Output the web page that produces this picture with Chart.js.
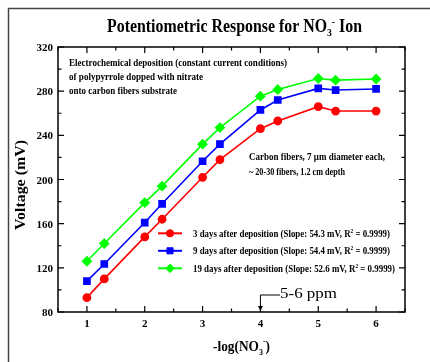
<!DOCTYPE html>
<html><head><meta charset="utf-8">
<script src="https://cdn.jsdelivr.net/npm/chart.js@4"></script>
<style>html,body{margin:0;padding:0;background:#fff}canvas{display:block}</style>
</head><body>
<canvas id="c" width="430" height="362"></canvas>
<script>
// ---- data ----
const xValues = [1, 1.3, 2, 2.3, 3, 3.3, 4, 4.3, 5, 5.3, 6];
const day3 = [93, 110, 148, 164, 202, 218, 246, 253, 266, 262, 262];
const day9 = [108, 123.5, 161, 178, 216.5, 232, 263, 272, 282.5, 281, 282];
const day19 = [126, 142, 179, 194, 232, 247, 275.5, 281.5, 291.5, 290, 291];
const seriesLabels = [
  ["3 days after deposition (Slope: 54.3 mV, R", "2", " = 0.9999)"],
  ["9 days after deposition (Slope: 54.4 mV, R", "2", " = 0.9999)"],
  ["19 days after deposition (Slope: 52.6 mV, R", "2", " = 0.9999)"]
];
const xTicks = [1, 2, 3, 4, 5, 6];
const yTicks = [80, 120, 160, 200, 240, 280, 320];
const noteLines = ["Electrochemical deposition (constant current conditions)", "of polypyrrole dopped with nitrate", "onto carbon fibers substrate"];
const fiberLines = ["Carbon fibers, 7 \u03bcm diameter each,", "~ 20-30 fibers, 1.2 cm depth"];
const arrowValue = 4;
const arrowText = "5-6 ppm";

const colors = ['#ff0000', '#0000ff', '#00ff00'];
const styles = ['circle', 'rect', 'rectRot'];
const radii = [3.6, 4.3, 4.3];
const SERIF = '"Liberation Serif", "Times New Roman", serif';

function mk(vals, i) {
  return {
    data: xValues.map((x, k) => ({x, y: vals[k]})),
    borderColor: colors[i], backgroundColor: colors[i],
    pointStyle: styles[i], pointRadius: radii[i], pointHoverRadius: radii[i],
    borderWidth: 1.6, showLine: true, tension: 0
  };
}

// draw a sequence of segments [text, font, dy] fitted to width
function drawSegs(ctx, segs, x, y, targetW, align) {
  let w = 0;
  segs.forEach(s => { ctx.font = s[1]; w += ctx.measureText(s[0]).width; });
  const sx = targetW ? targetW / w : 1;
  const total = w * sx;
  let start = x;
  if (align === 'center') start = x - total / 2;
  else if (align === 'right') start = x - total;
  ctx.save();
  ctx.translate(start, y);
  ctx.scale(sx, 1);
  let cx = 0;
  ctx.textAlign = 'left';
  segs.forEach(s => {
    ctx.font = s[1];
    ctx.fillText(s[0], cx, s[2] || 0);
    cx += ctx.measureText(s[0]).width;
  });
  ctx.restore();
}

const deco = {
  id: 'deco',
  afterDraw(chart) {
    const ctx = chart.ctx, xs = chart.scales.x, ys = chart.scales.y;
    const a = chart.chartArea;
    ctx.save();
    // outer frame
    ctx.strokeStyle = '#444'; ctx.lineWidth = 1.5;
    ctx.beginPath(); ctx.moveTo(8.5, 362); ctx.lineTo(8.5, 8.5); ctx.lineTo(430, 8.5); ctx.stroke();
    // plot box
    ctx.strokeStyle = '#000'; ctx.lineWidth = 1.5;
    ctx.strokeRect(a.left, a.top, a.right - a.left, a.bottom - a.top);
    // ticks
    ctx.lineWidth = 1.2;
    ctx.beginPath();
    for (let v = 0.5; v <= 6.5; v += 0.5) {
      const px = xs.getPixelForValue(v);
      const L = Number.isInteger(v) ? 6 : 3.5;
      ctx.moveTo(px, a.bottom); ctx.lineTo(px, a.bottom - L);
      ctx.moveTo(px, a.top); ctx.lineTo(px, a.top + L);
    }
    for (let v = 80; v <= 320; v += 20) {
      const py = ys.getPixelForValue(v);
      const L = (v % 40 === 0) ? 6 : 3.5;
      ctx.moveTo(a.left, py); ctx.lineTo(a.left + L, py);
      ctx.moveTo(a.right, py); ctx.lineTo(a.right - L, py);
    }
    ctx.stroke();
    ctx.fillStyle = '#000';
    ctx.textBaseline = 'alphabetic';
    // tick labels
    const tf = 'bold 11px ' + SERIF;
    ctx.font = tf;
    ctx.textAlign = 'center';
    xTicks.forEach(t => ctx.fillText(String(t), xs.getPixelForValue(t), 327));
    ctx.textAlign = 'right';
    yTicks.forEach(t => ctx.fillText(String(t), 53, ys.getPixelForValue(t) + 4));
    // title
    const T = 'bold 18px ' + SERIF, Ts = 'bold 11px ' + SERIF;
    drawSegs(ctx, [["Potentiometric Response for NO", T], ["3", Ts, 4], ["-", Ts, -7], [" Ion", T]], 107, 31.5, 255, 'left');
    // axis titles
    const A = 'bold 15px ' + SERIF, As = 'bold 9px ' + SERIF;
    drawSegs(ctx, [["-log(NO", A], ["3", As, 4], ["-", As, -7], [")", A]], 213, 351, 57, 'left');
    ctx.save();
    ctx.translate(25, 185); ctx.rotate(-Math.PI / 2);
    drawSegs(ctx, [["Voltage (mV)", A]], 0, 0, 90, 'center');
    ctx.restore();
    // notes
    const N = 'bold 10px ' + SERIF;
    const noteW = [218, 134, 108];
    noteLines.forEach((t, i) => drawSegs(ctx, [[t, N]], 69, 65.5 + i * 14, noteW[i], 'left'));
    const fibW = [136, 96];
    fiberLines.forEach((t, i) => drawSegs(ctx, [[t, N]], 249, 160 + i * 14.5, fibW[i], 'left'));
    // legend
    const legY = [233.3, 250.8, 268.3], legW = [197, 197, 202];
    const Ls = 'bold 6px ' + SERIF;
    seriesLabels.forEach((lab, i) => {
      const ds = chart.data.datasets[i];
      ctx.strokeStyle = ds.borderColor; ctx.fillStyle = ds.backgroundColor; ctx.lineWidth = 2;
      ctx.beginPath(); ctx.moveTo(158, legY[i]); ctx.lineTo(182, legY[i]); ctx.stroke();
      ctx.lineWidth = 1;
      Chart.helpers.drawPoint(ctx, {pointStyle: ds.pointStyle, radius: ds.pointRadius, borderWidth: 1}, 170, legY[i]);
      ctx.fillStyle = '#000';
      drawSegs(ctx, [[lab[0], N], [lab[1], Ls, -4], [lab[2], N]], 193, legY[i] + 3.3, legW[i], 'left');
    });
    // arrow annotation
    const ax = xs.getPixelForValue(arrowValue);
    ctx.strokeStyle = '#000'; ctx.fillStyle = '#000'; ctx.lineWidth = 1;
    ctx.beginPath(); ctx.moveTo(280, 295); ctx.lineTo(ax, 295); ctx.lineTo(ax, a.bottom - 4); ctx.stroke();
    ctx.beginPath(); ctx.moveTo(ax - 2.5, a.bottom - 6); ctx.lineTo(ax + 2.5, a.bottom - 6); ctx.lineTo(ax, a.bottom - 1); ctx.closePath(); ctx.fill();
    drawSegs(ctx, [[arrowText, '15px ' + SERIF]], 280, 298, 57, 'left');
    ctx.restore();
  }
};

new Chart(document.getElementById('c'), {
  type: 'scatter',
  data: {datasets: [mk(day3, 0), mk(day9, 1), mk(day19, 2)]},
  options: {
    responsive: false, animation: false,
    layout: {padding: {left: 58, top: 47, right: 25, bottom: 50}},
    plugins: {legend: {display: false}, tooltip: {enabled: false}, title: {display: false}},
    scales: {
      x: {type: 'linear', min: 0.5, max: 6.5, display: false},
      y: {type: 'linear', min: 80, max: 320, display: false}
    }
  },
  plugins: [deco]
});
</script>
</body></html>
